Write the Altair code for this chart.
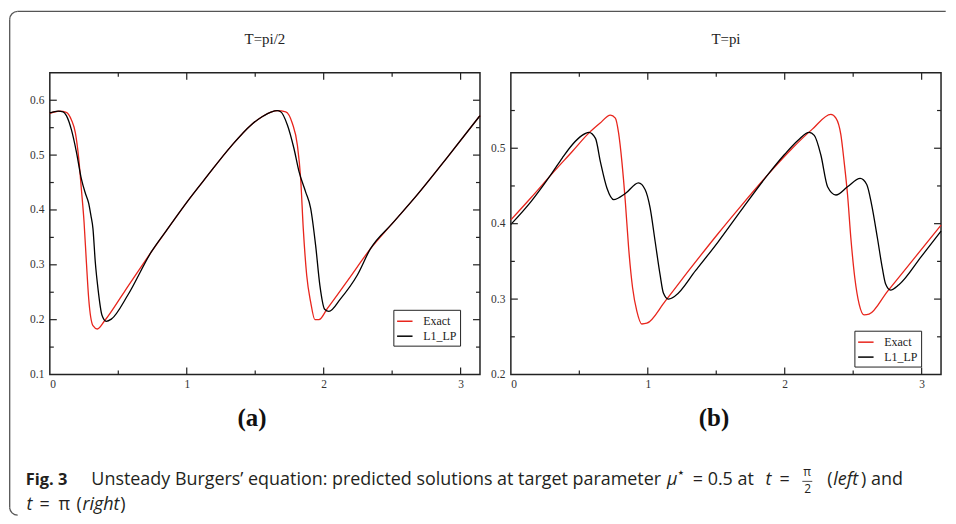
import math
import altair as alt
import pandas as pd

PI = math.pi

# ---------------- data ----------------
SERIES = ["Exact", "L1_LP"]
COLORS = ["#e8251c", "#000000"]

left_exact_x = [0, 0.04, 0.073, 0.12, 0.158, 0.187, 0.211, 0.23, 0.25, 0.267, 0.284, 0.315, 0.347, 0.4,
                0.55, 0.74, 0.85, 1.0, 1.15, 1.32, 1.47, 1.55, 1.62, 1.662, 1.723, 1.771, 1.808, 1.832,
                1.851, 1.876, 1.905, 1.936, 1.965, 2.026, 2.18, 2.341, 2.5, 2.681, 2.9, 3.1416]
left_exact_y = [0.576, 0.579, 0.580, 0.578, 0.564, 0.540, 0.494, 0.439, 0.378, 0.305, 0.238, 0.189, 0.183, 0.198,
                0.253, 0.323, 0.362, 0.414, 0.462, 0.515, 0.555, 0.570, 0.579, 0.581, 0.579, 0.558, 0.518, 0.457,
                0.366, 0.281, 0.232, 0.200, 0.200, 0.220, 0.273, 0.329, 0.375, 0.427, 0.495, 0.572]

left_l1_x = [0, 0.061, 0.097, 0.121, 0.158, 0.194, 0.23, 0.26, 0.284, 0.3, 0.315, 0.332, 0.352, 0.381, 0.412,
             0.449, 0.57, 0.74, 0.85, 1.0, 1.15, 1.32, 1.47, 1.55, 1.62, 1.66, 1.686, 1.735, 1.783, 1.82,
             1.868, 1.905, 1.941, 1.972, 2.007, 2.038, 2.123, 2.245, 2.341, 2.5, 2.681, 2.9, 3.1416]
left_l1_y = [0.577, 0.580, 0.579, 0.572, 0.546, 0.506, 0.457, 0.430, 0.412, 0.390, 0.366, 0.305, 0.256, 0.208, 0.197,
             0.201, 0.245, 0.323, 0.362, 0.414, 0.462, 0.515, 0.555, 0.570, 0.579, 0.581, 0.579, 0.555, 0.512, 0.470,
             0.433, 0.403, 0.336, 0.263, 0.219, 0.215, 0.238, 0.281, 0.329, 0.375, 0.427, 0.495, 0.572]

right_exact_x = [0, 0.15, 0.3, 0.45, 0.569, 0.65, 0.727, 0.763, 0.787, 0.811, 0.836, 0.86, 0.889, 0.92, 0.956,
                 0.993, 1.126, 1.3, 1.514, 1.683, 1.877, 2.05, 2.2, 2.337, 2.374, 2.41, 2.434, 2.459, 2.483,
                 2.512, 2.544, 2.58, 2.616, 2.749, 2.95, 3.1416]
right_exact_y = [0.405, 0.435, 0.466, 0.496, 0.520, 0.533, 0.544, 0.540, 0.520, 0.482, 0.429, 0.368, 0.315, 0.284, 0.267,
                 0.268, 0.297, 0.338, 0.387, 0.424, 0.465, 0.499, 0.525, 0.545, 0.540, 0.518, 0.482, 0.438, 0.381,
                 0.328, 0.293, 0.279, 0.280, 0.310, 0.355, 0.398]

right_l1_x = [0, 0.15, 0.3, 0.375, 0.45, 0.52, 0.569, 0.618, 0.654, 0.702, 0.751, 0.836, 0.932, 0.981, 1.017,
              1.054, 1.09, 1.114, 1.15, 1.199, 1.35, 1.514, 1.683, 1.877, 2.0, 2.1, 2.178, 2.216, 2.264, 2.313,
              2.374, 2.459, 2.551, 2.599, 2.635, 2.677, 2.713, 2.737, 2.773, 2.834, 3.0, 3.1416]
right_l1_y = [0.399, 0.430, 0.467, 0.487, 0.505, 0.517, 0.521, 0.513, 0.482, 0.447, 0.432, 0.440, 0.454, 0.445, 0.421,
              0.376, 0.332, 0.308, 0.300, 0.304, 0.338, 0.376, 0.418, 0.465, 0.492, 0.511, 0.521, 0.517, 0.491, 0.449,
              0.438, 0.449, 0.460, 0.452, 0.425, 0.381, 0.341, 0.320, 0.312, 0.319, 0.357, 0.390]

x_major = [1, 2, 3]
x_minor = [0.5, 1.5, 2.5]
x_labels = [0, 1, 2, 3]

left_y_labels = [0.1, 0.2, 0.3, 0.4, 0.5, 0.6]
left_y_major = [0.2, 0.3, 0.4, 0.5, 0.6]
left_y_minor = [0.15, 0.25, 0.35, 0.45, 0.55]
left_y_domain = [0.1, 0.65]

right_y_labels = [0.2, 0.3, 0.4, 0.5]
right_y_major = [0.3, 0.4, 0.5]
right_y_minor = [0.25, 0.35, 0.45, 0.55]
right_y_domain = [0.2, 0.6]

W, H = 432, 303
SPACING = 31
MAJ, MIN = 7, 4
SERIF = "Liberation Serif"
SANS = "Open Sans"
TXT = "#231f20"

one = pd.DataFrame({"k": [0]})


def series_df(ex_x, ex_y, l1_x, l1_y):
    a = pd.DataFrame({"x": ex_x, "y": ex_y, "series": "Exact", "o": range(len(ex_x))})
    b = pd.DataFrame({"x": l1_x, "y": l1_y, "series": "L1_LP", "o": range(len(l1_x))})
    return pd.concat([a, b], ignore_index=True)


def panel(df, ydom, ylabels, ymaj, ymin, title, leg_x, leg_y, tag, tag_x):
    xenc = alt.X("x:Q", scale=alt.Scale(domain=[0, PI], nice=False, zero=False),
                 axis=alt.Axis(values=x_labels, format="d", title=None, labelPadding=4))
    yenc = alt.Y("y:Q", scale=alt.Scale(domain=ydom, nice=False, zero=False),
                 axis=alt.Axis(values=ylabels, format=".1f", title=None, labelPadding=6))
    lines = alt.Chart(df).mark_line(strokeWidth=1.3, interpolate="monotone").encode(
        x=xenc, y=yenc, order="o:Q",
        color=alt.Color("series:N", scale=alt.Scale(domain=SERIES, range=COLORS),
                        legend=alt.Legend(title=None, orient="none", legendX=leg_x, legendY=leg_y,
                                          direction="vertical", strokeColor="#222", fillColor="white",
                                          padding=3, symbolType="stroke", symbolSize=240,
                                          symbolStrokeWidth=1.5, labelFont=SERIF, labelFontSize=12,
                                          labelColor="#222", rowPadding=0, labelOffset=10)),
    )
    layers = [lines]
    for vals, ln in ((x_major, MAJ), (x_minor, MIN)):
        d = pd.DataFrame({"x": vals})
        layers.append(alt.Chart(d).mark_rule(color="#222", strokeWidth=1.2).encode(
            x=xenc, y=alt.value(0), y2=alt.value(ln)))
        layers.append(alt.Chart(d).mark_rule(color="#222", strokeWidth=1.2).encode(
            x=xenc, y=alt.value(H), y2=alt.value(H - ln)))
    for vals, ln in ((ymaj, MAJ), (ymin, MIN)):
        d = pd.DataFrame({"y": vals})
        layers.append(alt.Chart(d).mark_rule(color="#222", strokeWidth=1.2).encode(
            y=yenc, x=alt.value(0), x2=alt.value(ln)))
        layers.append(alt.Chart(d).mark_rule(color="#222", strokeWidth=1.2).encode(
            y=yenc, x=alt.value(W), x2=alt.value(W - ln)))
    # panel label (a)/(b) and panel title
    layers.append(alt.Chart(one).mark_text(text=tag, font=SERIF, fontSize=25, fontWeight="bold",
                                           color="#111", align="center", baseline="middle").encode(
        x=alt.value(tag_x), y=alt.value(347)))
    layers.append(alt.Chart(one).mark_text(text=title, font=SERIF, fontSize=15, color="#222",
                                           align="center", baseline="middle").encode(
        x=alt.value(W / 2), y=alt.value(-34)))
    return layers


# page -> left-panel coordinates
OX, OY = 48.3, 70.7


def txt(s, px, py, size=18, weight="normal", style="normal", align="left", font=SANS):
    return alt.Chart(one).mark_text(text=s, font=font, fontSize=size, fontWeight=weight, fontStyle=style,
                                    color=TXT, align=align, baseline="middle").encode(
        x=alt.value(px - OX), y=alt.value(py - OY))


L1Y = 480
L2Y = 505
caption = [
    txt("Fig. 3", 24, L1Y, size=16.5, weight="bold"),
    txt("Unsteady Burgers\u2019 equation: predicted solutions at target parameter", 90, L1Y),
    txt("\u03bc", 668, L1Y, style="italic"),
    txt("\u2605", 679, L1Y - 7, size=7, font="DejaVu Sans"),
    txt("= 0.5 at", 694, L1Y),
    txt("t", 767, L1Y, style="italic"),
    txt("=", 781, L1Y),
    txt("\u03c0", 805, L1Y - 8, size=12),
    txt("2", 806, L1Y + 9, size=12),
    alt.Chart(one).mark_rule(color=TXT, strokeWidth=0.8).encode(
        x=alt.value(804 - OX), x2=alt.value(814 - OX), y=alt.value(L1Y + 1 - OY)),
    txt("(", 829, L1Y),
    txt("left", 835, L1Y, style="italic"),
    txt(") and", 863, L1Y),
    txt("t", 25, L2Y, style="italic"),
    txt("=", 38, L2Y),
    txt("\u03c0", 57, L2Y),
    txt("(", 75, L2Y),
    txt("right", 81, L2Y, style="italic"),
    txt(")", 119, L2Y),
]

# frame (outer rounded border) in left-panel coordinates
FL, FT, FB, FR, R = 8 - OX, 9 - OY, 515 - OY, 948 - OX, 8
FC = "#555"
frame = [
    alt.Chart(one).mark_rule(color=FC, strokeWidth=1.3).encode(
        x=alt.value(FL + R), x2=alt.value(FR), y=alt.value(FT)),
    alt.Chart(one).mark_rule(color=FC, strokeWidth=1.3).encode(
        x=alt.value(FL), y=alt.value(FT + R), y2=alt.value(FB - R)),
    alt.Chart(one).mark_arc(theta=1.5 * PI, theta2=2 * PI, innerRadius=R - 0.65, outerRadius=R + 0.65,
                            color=FC).encode(x=alt.value(FL + R), y=alt.value(FT + R)),
    alt.Chart(one).mark_arc(theta=PI, theta2=1.5 * PI, innerRadius=R - 0.65, outerRadius=R + 0.65,
                            color=FC).encode(x=alt.value(FL + R), y=alt.value(FB - R)),
]

l_layers = panel(series_df(left_exact_x, left_exact_y, left_l1_x, left_l1_y), left_y_domain,
                 left_y_labels, left_y_major, left_y_minor, "T=pi/2", 345, 238, "(a)", 203)
r_layers = panel(series_df(right_exact_x, right_exact_y, right_l1_x, right_l1_y), right_y_domain,
                 right_y_labels, right_y_major, right_y_minor, "T=pi", 345, 259, "(b)", 204)

left = alt.layer(*(l_layers + caption + frame)).properties(width=W, height=H)
right = alt.layer(*r_layers).properties(width=W, height=H)

chart = alt.hconcat(left, right, spacing=SPACING, bounds="flush").resolve_scale(
    color="independent").resolve_legend(color="independent").properties(padding=0).configure_view(
    stroke="#222", strokeWidth=1.5).configure_axis(
    labelFont=SERIF, labelFontSize=11.5, labelColor="#333", ticks=False, domain=False, grid=False)

chart.save("out.html", embed_options={"renderer": "svg", "actions": False})
